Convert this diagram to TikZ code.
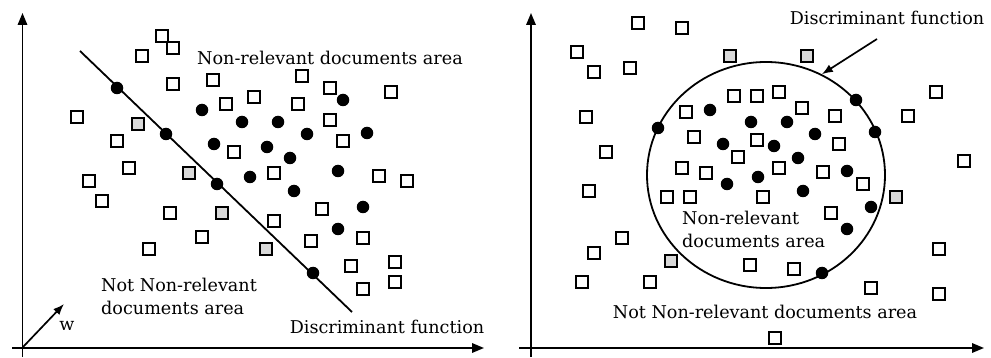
\documentclass[tikz,border=0pt]{standalone}
\usepackage{fontspec}
\setmainfont{DejaVu Serif}
\usetikzlibrary{arrows.meta,shapes.geometric}
\definecolor{sqgray}{HTML}{D9D9D9}
\begin{document}
\begin{tikzpicture}[x=1pt,y=-1pt,
  axis/.style={line width=1.7pt,-{Triangle[length=12pt,width=9.5pt]}},
  pointer/.style={line width=1.7pt,-{Latex[length=11pt,width=8.5pt]}},
  wsq/.style={draw,line width=1.8pt,minimum size=11.5pt,inner sep=0pt,fill=white},
  gsq/.style={wsq,fill=sqgray},
  dot/.style={circle,fill=black,minimum size=12.5pt,inner sep=0pt},
  lbl/.style={inner sep=0pt,font=\fontsize{17.6}{24}\selectfont}]
\useasboundingbox (0,0) rectangle (991,358);

% ---------- left panel: linear discriminant ----------
\coordinate (lxs) at (12,348);   \coordinate (lxe) at (484,348);
\coordinate (lys) at (22.5,357); \coordinate (lye) at (22.5,13);
\draw[axis] (lxs) -- (lxe);
\draw[axis] (lys) -- (lye);

\coordinate (lineA) at (80,51); \coordinate (lineB) at (352,312);
\draw[line width=1.8pt] (lineA) -- (lineB);

\coordinate (wS) at (23,347); \coordinate (wE) at (64,304);
\draw[pointer] (wS) -- (wE);
\node[lbl,anchor=base] (wlab) at (67,330) {w};

\foreach \x/\y [count=\i] in {162/36,173/48,142/56,173/84,213/80,226/104,77/117,
  117/141,234/152,129/168,89/181,102/201,170/213,202/237,149/249,302/76,330/88,
  391/92,254/97,298/104,330/120,343/141,274/173,379/176,407/181,322/209,274/221,
  311/241,363/238,351/266,395/262,395/282,363/289}
  \node[wsq] (lw\i) at (\x,\y) {};
\foreach \x/\y [count=\i] in {138/124,189/173,222/213,266/249}
  \node[gsq] (lg\i) at (\x,\y) {};
\foreach \x/\y [count=\i] in {117/88,166/134,217/184,313/273}
  \node[dot] (lb\i) at (\x,\y) {};
\foreach \x/\y [count=\i] in {202/110,242/122,214/144,250/177,343/100,278/122,
  307/134,367/133,267/147,290/158,338/171,294/191,363/207,338/229}
  \node[dot] (ld\i) at (\x,\y) {};

\node[lbl,anchor=base] (lnr) at (330,65) {Non-relevant documents area};
\node[lbl,anchor=base west] (lnn1) at (101,291) {Not Non-relevant};
\node[lbl,anchor=base west] (lnn2) at (101,314) {documents area};
\node[lbl,anchor=base] (ldf) at (387,333) {Discriminant function};

% ---------- right panel: closed discriminant ----------
\coordinate (rxs) at (519,348); \coordinate (rxe) at (984,348);
\coordinate (rys) at (531,357); \coordinate (rye) at (531,13);
\draw[axis] (rxs) -- (rxe);
\draw[axis] (rys) -- (rye);

\node[ellipse,draw,line width=1.8pt,minimum width=238pt,minimum height=226pt,
  inner sep=0pt] (disc) at (766,175) {};

\foreach \x/\y [count=\i] in {638/23,682/28,577/52,594/72,630/68,586/117,606/152,
  589/191,622/238,594/253,582/282,650/282,734/96,757/96,779/92,802/108,835/116,
  686/112,694/137,757/140,839/144,738/157,682/168,706/173,779/168,823/172,
  667/197,690/197,763/197,863/184,831/213,750/265,794/269,871/288,939/249,
  939/294,775/338,936/92,908/116,964/161}
  \node[wsq] (rw\i) at (\x,\y) {};
\foreach \x/\y [count=\i] in {730/56,807/56,896/197,671/261}
  \node[gsq] (rg\i) at (\x,\y) {};
\foreach \x/\y [count=\i] in {658/128,856/100,875/132,871/207,822/273}
  \node[dot] (rb\i) at (\x,\y) {};
\foreach \x/\y [count=\i] in {710/110,751/122,787/122,815/134,723/144,774/146,
  798/158,847/171,758/177,727/184,803/191,847/229}
  \node[dot] (rd\i) at (\x,\y) {};

\node[lbl,anchor=base] (rdf) at (887,25) {Discriminant function};
\coordinate (arrS) at (877,39);
\draw[pointer] (arrS) -- (disc.61);

\node[lbl,anchor=base west] (rnr1) at (682,225) {Non-relevant};
\node[lbl,anchor=base west] (rnr2) at (682,248) {documents area};
\node[lbl,anchor=base] (rnn) at (765,318) {Not Non-relevant documents area};
\end{tikzpicture}
\end{document}
